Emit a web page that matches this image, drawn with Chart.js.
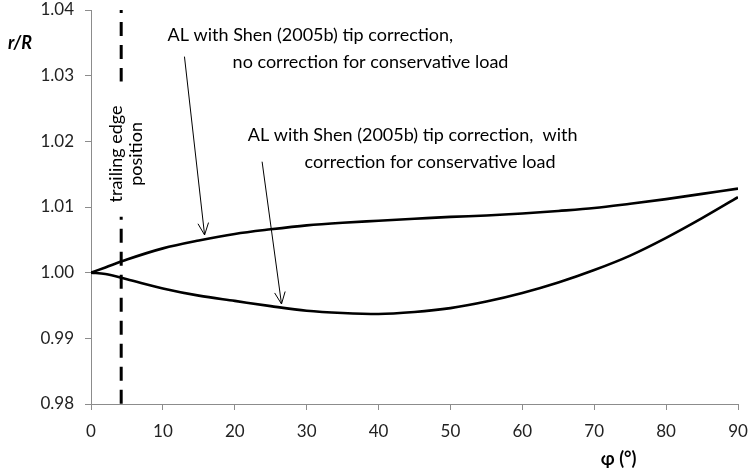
<!DOCTYPE html>
<html>
<head>
<meta charset="utf-8">
<script src="https://cdn.jsdelivr.net/npm/chart.js@4.4.1/dist/chart.umd.min.js"></script>
<style>
html,body{margin:0;padding:0;background:#fff;}
#wrap{width:748px;height:471px;position:relative;}
</style>
</head>
<body>
<div id="wrap"><canvas id="c" width="748" height="471"></canvas></div>
<script>
// ---- data ----
const phi = [0, 2, 5, 10, 15, 20, 25, 30, 35, 40, 45, 50, 55, 60, 65, 70, 75, 80, 85, 90];
const noConservative = [1.0000, 1.0008, 1.0020, 1.0037, 1.0049, 1.0059, 1.0066, 1.0072, 1.0076, 1.0079, 1.0082, 1.0085, 1.0087, 1.0090, 1.0094, 1.00985, 1.0105, 1.0112, 1.0120, 1.0128];
const withConservative = [1.0000, 0.9998, 0.9990, 0.9976, 0.9965, 0.9957, 0.9949, 0.9942, 0.99385, 0.9937, 0.9940, 0.9946, 0.9956, 0.9969, 0.9985, 1.0004, 1.0026, 1.0053, 1.0083, 1.0115];
const trailingEdgePhi = 4.2;
const trailingEdgeUpper = [1.04, 1.0291];
const trailingEdgeLower = [1.0085, 0.98];
const xTicks = [0, 10, 20, 30, 40, 50, 60, 70, 80, 90];
const yTicks = [0.98, 0.99, 1.00, 1.01, 1.02, 1.03, 1.04];
const xTitle = 'φ (°)';
const yTitle = 'r/R';
const label1 = ['AL with Shen (2005b) tip correction,', 'no correction for conservative load'];
const label2 = ['AL with Shen (2005b) tip correction,  with', 'correction for conservative load'];
const label1Pos = [[10.65, 1.0362], [19.7, 1.0321]];
const label2Pos = [[21.8, 1.02097], [29.7, 1.01686]];
const arrow1 = [[13.0, 1.0329], [15.8, 1.00574]];
const arrow2 = [[23.8, 1.0169], [26.5, 0.99523]];
const teLabel = ['trailing edge', 'position'];
const teLabelPos = [[3.5, 1.01808], [6.3, 1.01808]];

const FONT = 'Lato, "Open Sans", sans-serif';
const toXY = (xs, ys) => xs.map((x, i) => ({x: x, y: ys[i]}));

const annot = {
  id: 'annot',
  afterDatasetsDraw(chart) {
    const ctx = chart.ctx, xs = chart.scales.x, ys = chart.scales.y;
    const P = p => [xs.getPixelForValue(p[0]), ys.getPixelForValue(p[1])];
    ctx.save();
    ctx.fillStyle = '#000';
    ctx.font = '18px ' + FONT;
    ctx.textBaseline = 'middle';
    ctx.textAlign = 'left';
    label1.forEach((t, i) => { const p = P(label1Pos[i]); ctx.fillText(t, p[0], p[1]); });
    label2.forEach((t, i) => { const p = P(label2Pos[i]); ctx.fillText(t, p[0], p[1]); });
    // arrows
    ctx.strokeStyle = '#000';
    ctx.lineWidth = 1;
    [arrow1, arrow2].forEach(a => {
      const s = P(a[0]), e = P(a[1]);
      ctx.beginPath(); ctx.moveTo(s[0], s[1]); ctx.lineTo(e[0], e[1]); ctx.stroke();
      const ang = Math.atan2(e[1] - s[1], e[0] - s[0]);
      const L = 13, w = 0.42;
      ctx.beginPath();
      ctx.moveTo(e[0] - L * Math.cos(ang - w), e[1] - L * Math.sin(ang - w));
      ctx.lineTo(e[0], e[1]);
      ctx.lineTo(e[0] - L * Math.cos(ang + w), e[1] - L * Math.sin(ang + w));
      ctx.stroke();
    });
    // trailing edge label
    ctx.font = '18px ' + FONT;
    ctx.textAlign = 'center';
    teLabel.forEach((t, i) => {
      const p = P(teLabelPos[i]);
      ctx.save(); ctx.translate(p[0], p[1]); ctx.rotate(-Math.PI / 2); ctx.fillText(t, 0, 0); ctx.restore();
    });
    // axis titles
    ctx.fillStyle = '#000';
    ctx.font = 'italic bold 18px ' + FONT;
    ctx.textAlign = 'center';
    ctx.fillText(yTitle, 20, 43);
    ctx.font = 'bold 18px ' + FONT;
    ctx.fillText(xTitle, xs.getPixelForValue(73.4), 459);
    ctx.restore();
  }
};

new Chart(document.getElementById('c'), {
  type: 'line',
  data: {
    datasets: [
      {data: toXY(phi, noConservative), borderColor: '#000', borderWidth: 2.6, pointRadius: 0, cubicInterpolationMode: 'monotone', fill: false},
      {data: toXY(phi, withConservative), borderColor: '#000', borderWidth: 2.6, pointRadius: 0, cubicInterpolationMode: 'monotone', fill: false},
      {data: toXY([trailingEdgePhi, trailingEdgePhi], trailingEdgeUpper), borderColor: '#000', borderWidth: 3, borderDash: [14, 9], borderDashOffset: 11, pointRadius: 0, borderCapStyle: 'butt'},
      {data: toXY([trailingEdgePhi, trailingEdgePhi], trailingEdgeLower), borderColor: '#000', borderWidth: 3, borderDash: [14, 9], borderDashOffset: 11, pointRadius: 0, borderCapStyle: 'butt'}
    ]
  },
  options: {
    responsive: false,
    animation: false,
    devicePixelRatio: 1,
    layout: {padding: {top: 10, right: 10, left: 0, bottom: 0}},
    plugins: {legend: {display: false}, tooltip: {enabled: false}},
    scales: {
      x: {
        type: 'linear', min: 0, max: 90,
        afterBuildTicks: s => { s.ticks = xTicks.map(v => ({value: v})); },
        afterFit: s => { s.height = 67; s.paddingLeft = 0; s.paddingRight = 0; },
        grid: {drawOnChartArea: false, drawTicks: true, tickLength: 6, color: '#8c8c8c', lineWidth: 1},
        border: {display: true, color: '#8c8c8c', width: 1},
        ticks: {padding: 11, color: '#222', font: {family: FONT, size: 17}, maxRotation: 0, callback: v => String(v)}
      },
      y: {
        type: 'linear', min: 0.98, max: 1.04,
        afterBuildTicks: s => { s.ticks = yTicks.map(v => ({value: v})); },
        afterFit: s => { s.width = 91; s.paddingTop = 0; s.paddingBottom = 0; },
        grid: {drawOnChartArea: false, drawTicks: true, tickLength: 6, color: '#8c8c8c', lineWidth: 1},
        border: {display: true, color: '#8c8c8c', width: 1},
        ticks: {padding: 11, color: '#222', font: {family: FONT, size: 17}, callback: v => Number(v).toFixed(2)}
      }
    }
  },
  plugins: [annot]
});
</script>
</body>
</html>
